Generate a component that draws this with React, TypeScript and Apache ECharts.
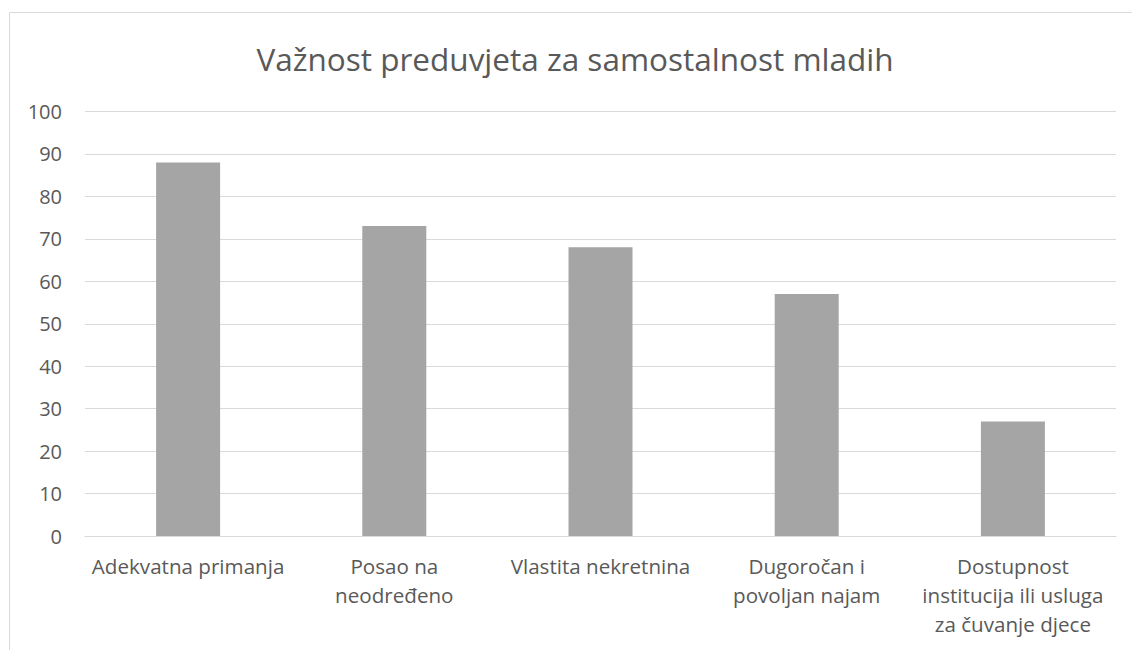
import React, { useEffect, useRef } from "react";
import * as echarts from "echarts";

const title = "Važnost preduvjeta za samostalnost mladih";
const categories = [
  "Adekvatna primanja",
  "Posao na\nneodređeno",
  "Vlastita nekretnina",
  "Dugoročan i\npovoljan najam",
  "Dostupnost\ninstitucija ili usluga\nza čuvanje djece",
];
const values = [88, 73, 68, 57, 27];
const yMin = 0;
const yMax = 100;
const yInterval = 10;

const FONT = "'Open Sans', 'Noto Sans', sans-serif";
const TEXT = "#595959";
const GRID = "#d9d9d9";
const BAR = "#a5a5a5";

export default function App() {
  const ref = useRef<HTMLDivElement>(null);
  useEffect(() => {
    if (!ref.current) return;
    const chart = echarts.init(ref.current, null, { renderer: "svg" });
    chart.setOption({
      animation: false,
      backgroundColor: "#ffffff",
      textStyle: { fontFamily: FONT },
      title: {
        text: title,
        left: 570,
        textAlign: "center",
        top: 37,
        textStyle: { fontFamily: FONT, fontSize: 31.5, fontWeight: "normal", color: TEXT },
      },
      graphic: [
        {
          type: "rect",
          shape: { x: 9.5, y: 12.5, width: 1300, height: 800 },
          style: { fill: "none", stroke: GRID, lineWidth: 1 },
          silent: true,
        },
      ],
      grid: {
        left: 85,
        right: 16,
        top: 111.5,
        bottom: 114,
        containLabel: false,
        outerBoundsMode: "none",
      },
      xAxis: {
        type: "category",
        data: categories,
        axisLine: { show: true, lineStyle: { color: GRID, width: 1 } },
        axisTick: { show: false },
        axisLabel: {
          interval: 0,
          color: TEXT,
          fontFamily: FONT,
          fontSize: 20.6,
          lineHeight: 29,
          margin: 15,
          align: "center",
        },
        splitLine: { show: false },
      },
      yAxis: {
        type: "value",
        min: yMin,
        max: yMax,
        interval: yInterval,
        axisLine: { show: false },
        axisTick: { show: false },
        axisLabel: { color: TEXT, fontFamily: FONT, fontSize: 20, margin: 23 },
        splitLine: { show: true, lineStyle: { color: GRID, width: 1 } },
      },
      series: [
        {
          type: "bar",
          data: values,
          barWidth: 64,
          itemStyle: { color: BAR },
        },
      ],
    });
    return () => chart.dispose();
  }, []);
  return (
    <div
      ref={ref}
      style={{ position: "fixed", left: 0, top: 0, width: 1132, height: 650, background: "#fff" }}
    />
  );
}
